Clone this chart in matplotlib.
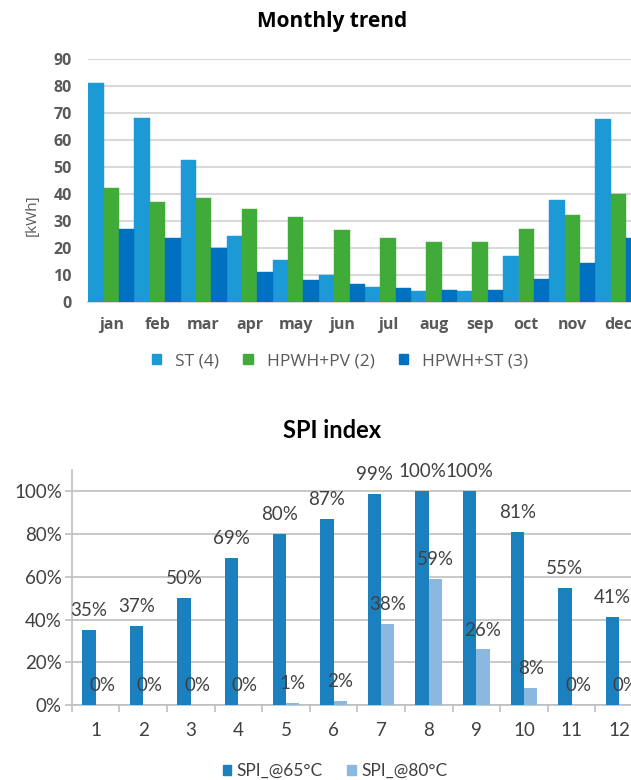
import matplotlib
matplotlib.use("Agg")
import matplotlib.pyplot as plt
from matplotlib.patches import Patch
import numpy as np

# ---- data ----
months = ["jan", "feb", "mar", "apr", "may", "jun", "jul", "aug", "sep", "oct", "nov", "dec"]
st4 = [81, 68, 52.5, 24.5, 15.5, 10, 5.5, 4, 4, 17, 37.5, 67.5]
hpwh_pv2 = [42, 37, 38.5, 34.5, 31.5, 26.5, 23.5, 22, 22, 27, 32, 40]
hpwh_st3 = [27, 23.5, 20, 11, 8, 6.5, 5, 4.5, 4.5, 8.5, 14.5, 23.5]
top_series_names = ["ST (4)", "HPWH+PV (2)", "HPWH+ST (3)"]

spi_cats = ["1", "2", "3", "4", "5", "6", "7", "8", "9", "10", "11", "12"]
spi65 = [35, 37, 50, 69, 80, 87, 99, 100, 100, 81, 55, 41]
spi80 = [0, 0, 0, 0, 1, 2, 38, 59, 26, 8, 0, 0]
spi_names = ["SPI_@65°C", "SPI_@80°C"]

# ---- figure ----
W, H = 631, 780
fig = plt.figure(figsize=(W / 100, H / 100), dpi=100)

def box(l, t, r, b):
    return [l / W, 1 - b / H, (r - l) / W, (b - t) / H]

# ===== Top chart =====
c_st, c_pv, c_hst = "#1b9ad6", "#41ab3a", "#0070c0"
ax1 = fig.add_axes(box(88.3, 58.7, 641.5, 301.7))
x = np.arange(len(months))
bw = 1 / 3
ax1.bar(x - bw, st4, width=bw, color=c_st, edgecolor=c_st, linewidth=0.3, zorder=3)
ax1.bar(x, hpwh_pv2, width=bw, color=c_pv, edgecolor=c_pv, linewidth=0.3, zorder=3)
ax1.bar(x + bw, hpwh_st3, width=bw, color=c_hst, edgecolor=c_hst, linewidth=0.3, zorder=3)
ax1.set_xlim(-0.5, 11.5)
ax1.set_ylim(0, 90)
ax1.set_yticks(np.arange(0, 91, 10))
ax1.yaxis.grid(True, color="#d9d9d9", linewidth=1.5, zorder=0)
ax1.set_axisbelow(True)
for s in ["top", "right", "left"]:
    ax1.spines[s].set_visible(False)
ax1.spines["bottom"].set_color("#d9d9d9")
ax1.spines["bottom"].set_linewidth(1.5)
ax1.set_xticks(x)
ax1.set_xticklabels(months)
ax1.tick_params(axis="both", length=0)
ax1.tick_params(axis="x", pad=11)
ax1.tick_params(axis="y", pad=12)
for lab in ax1.get_xticklabels() + ax1.get_yticklabels():
    lab.set_fontfamily("Open Sans")
    lab.set_fontweight("bold")
    lab.set_color("#595959")
    lab.set_fontsize(11.5)
ax1.set_ylabel("[kWh]", fontfamily="Open Sans", fontsize=11, color="#595959")
ax1.yaxis.set_label_coords((40 - 88.3) / 553.2, 0.355)
fig.text(332.5 / W, 1 - 22 / H, "Monthly trend", ha="center", va="center",
         fontfamily="Open Sans", fontweight="bold", fontsize=15, color="black")
h1 = [Patch(facecolor=c, edgecolor=c) for c in (c_st, c_pv, c_hst)]
leg1 = fig.legend(h1, top_series_names, loc="center", bbox_to_anchor=(340 / W, 1 - 361 / H),
                  ncol=3, frameon=False, handlelength=0.55, handleheight=0.55,
                  handletextpad=0.8, columnspacing=1.4,
                  prop={"family": "Open Sans", "size": 12.5})
for t in leg1.get_texts():
    t.set_color("#595959")

# ===== Bottom chart =====
c65, c80 = "#1b80bd", "#8ab8e0"
fs = 13.5
ax2 = fig.add_axes(box(71.7, 470, 643, 705))
x2 = np.arange(len(spi_cats))
w2 = 0.28
v65 = np.array(spi65) / 100
v80 = np.array(spi80) / 100
ax2.bar(x2 - w2 / 2, v65, width=w2, color=c65, zorder=3)
ax2.bar(x2 + w2 / 2, v80, width=w2, color=c80, zorder=3)
ax2.set_xlim(-0.5, 11.5)
ax2.set_ylim(0, 1.1)
ax2.set_yticks(np.arange(0, 1.01, 0.2))
ax2.set_yticklabels([f"{int(round(v * 100))}%" for v in np.arange(0, 1.01, 0.2)])
ax2.yaxis.grid(True, color="#bfbfbf", linewidth=1.2, zorder=0)
ax2.set_axisbelow(True)
for s in ["top", "right"]:
    ax2.spines[s].set_visible(False)
for s in ["left", "bottom"]:
    ax2.spines[s].set_color("#bfbfbf")
    ax2.spines[s].set_linewidth(1.2)
ax2.set_xticks(np.arange(-0.5, 12, 1))
ax2.set_xticklabels([])
ax2.tick_params(axis="x", which="major", length=5, width=1.2, color="#bfbfbf", direction="out")
ax2.set_xticks(x2, minor=True)
ax2.set_xticklabels(spi_cats, minor=True)
ax2.tick_params(axis="x", which="minor", length=0, pad=12)
ax2.tick_params(axis="y", length=5, width=1.2, color="#bfbfbf", pad=2)
for lab in ax2.get_xticklabels(minor=True) + ax2.get_yticklabels():
    lab.set_fontfamily("Lato")
    lab.set_fontsize(fs)
    lab.set_color("#404040")

for xi, v in zip(x2, spi65):
    ax2.annotate(f"{v}%", (xi - w2 / 2, v / 100), xytext=(0, 14), textcoords="offset points",
                 ha="center", va="center", fontfamily="Lato", fontsize=fs,
                 color="#404040", annotation_clip=False)
for xi, v in zip(x2, spi80):
    ax2.annotate(f"{v}%", (xi + w2 / 2, v / 100), xytext=(0, 14), textcoords="offset points",
                 ha="center", va="center", fontfamily="Lato", fontsize=fs,
                 color="#404040", annotation_clip=False)

fig.text(332 / W, 1 - 430 / H, "SPI index", ha="center", va="center",
         fontfamily="Lato", fontweight="bold", fontsize=17, color="black")
h2 = [Patch(facecolor=c, edgecolor=c) for c in (c65, c80)]
leg2 = fig.legend(h2, spi_names, loc="center", bbox_to_anchor=(335 / W, 1 - 771 / H),
                  ncol=2, frameon=False, handlelength=0.5, handleheight=0.5,
                  handletextpad=0.3, columnspacing=1.4,
                  prop={"family": "Lato", "size": 12.5})
for t in leg2.get_texts():
    t.set_color("#404040")

fig.savefig("out.png", dpi=100)
